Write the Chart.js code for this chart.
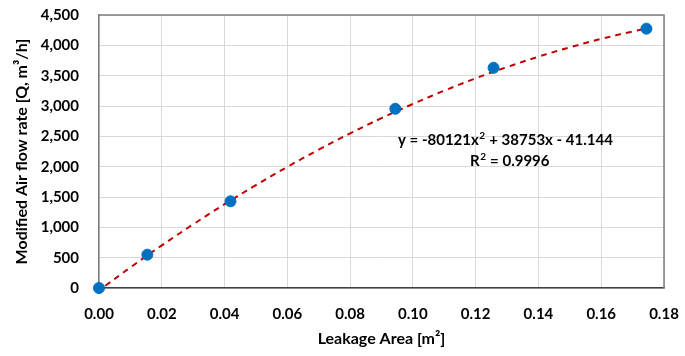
<!DOCTYPE html>
<html>
<head>
<meta charset="utf-8">
<script src="https://cdn.jsdelivr.net/npm/chart.js@4"></script>
<style>
html,body{margin:0;padding:0;background:#fff;}
#wrap{width:685px;height:356px;position:relative;}
</style>
</head>
<body>
<div id="wrap"><canvas id="c" width="685" height="356"></canvas></div>
<script>
// Measured data
const leakageArea = [0.0, 0.0154, 0.0419, 0.0944, 0.1257, 0.1744];
const airFlow = [0, 549, 1429, 2954, 3630, 4275];
// Trendline (red dashed curve)
const trendX = [0.002, 0.01, 0.02, 0.03, 0.04, 0.05, 0.06, 0.07, 0.08, 0.09, 0.10, 0.11, 0.12, 0.13, 0.14, 0.15, 0.16, 0.17, 0.1744];
const trendY = [36, 339, 702, 1049, 1381, 1696, 1996, 2280, 2548, 2800, 3033, 3253, 3456, 3642, 3813, 3967, 4106, 4228, 4276];
const yTicks = [0, 500, 1000, 1500, 2000, 2500, 3000, 3500, 4000, 4500];
const xTicks = [0.00, 0.02, 0.04, 0.06, 0.08, 0.10, 0.12, 0.14, 0.16, 0.18];
const equationText = ['y = -80121x', '2', ' + 38753x - 41.144'];
const r2Text = ['R', '2', ' = 0.9996'];

const FONT = 'Lato, "Open Sans", sans-serif';

const textPlugin = {
  id: 'eqText',
  afterDatasetsDraw(chart) {
    const ctx = chart.ctx;
    ctx.save();
    ctx.fillStyle = '#000';
    ctx.textBaseline = 'alphabetic';
    function drawSup(parts, x, y) {
      let cx = x;
      ctx.font = 'bold 15px ' + FONT;
      ctx.fillText(parts[0], cx, y);
      cx += ctx.measureText(parts[0]).width;
      ctx.font = 'bold 10px ' + FONT;
      ctx.fillText(parts[1], cx + 0.5, y - 6);
      cx += ctx.measureText(parts[1]).width + 1;
      ctx.font = 'bold 15px ' + FONT;
      ctx.fillText(parts[2], cx, y);
    }
    drawSup(equationText, 398, 145);
    drawSup(r2Text, 470, 166);
    // plot frame
    const a = chart.chartArea;
    ctx.strokeStyle = '#7f7f7f';
    ctx.lineWidth = 1.5;
    ctx.beginPath();
    ctx.moveTo(a.left, a.top);
    ctx.lineTo(a.right, a.top);
    ctx.lineTo(a.right, a.bottom);
    ctx.stroke();
    ctx.restore();
  }
};

new Chart(document.getElementById('c'), {
  type: 'scatter',
  data: {
    datasets: [
      {
        label: 'Trend',
        data: trendX.map((x, i) => ({x: x, y: trendY[i]})),
        showLine: true,
        borderColor: '#c00000',
        borderWidth: 2,
        borderDash: [6, 5],
        pointRadius: 0,
        tension: 0.4,
        fill: false,
        order: 2
      },
      {
        label: 'Data',
        data: leakageArea.map((x, i) => ({x: x, y: airFlow[i]})),
        backgroundColor: '#0070c0',
        borderColor: '#0070c0',
        pointRadius: 5.5,
        pointHoverRadius: 5.5,
        order: 1
      }
    ]
  },
  options: {
    responsive: false,
    animation: false,
    clip: false,
    layout: {padding: {left: 0, right: 21, top: 15, bottom: 0}},
    plugins: {legend: {display: false}, tooltip: {enabled: false}},
    scales: {
      x: {
        type: 'linear',
        min: 0, max: 0.18,
        afterBuildTicks: s => { s.ticks = xTicks.map(v => ({value: v})); },
        afterFit: s => { s.height = 68; s.paddingLeft = 0; s.paddingRight = 0; },
        grid: {color: '#d9d9d9', lineWidth: 1, drawTicks: false},
        border: {color: '#404040', width: 1.5},
        ticks: {
          padding: 17,
          color: '#000',
          font: {family: FONT, size: 15, weight: 'bold'},
          callback: v => Number(v).toFixed(2),
          maxRotation: 0
        },
        title: {
          display: true,
          text: 'Leakage Area [m²]',
          color: '#000',
          font: {family: FONT, size: 16, weight: 'bold'},
          padding: {top: 6, bottom: 8}
        }
      },
      y: {
        type: 'linear',
        min: 0, max: 4500,
        afterBuildTicks: s => { s.ticks = yTicks.map(v => ({value: v})); },
        afterFit: s => { s.width = 99; s.paddingTop = 0; s.paddingBottom = 0; },
        grid: {color: '#d9d9d9', lineWidth: 1, drawTicks: false},
        border: {color: '#7f7f7f', width: 1.5},
        ticks: {
          padding: 20,
          color: '#000',
          font: {family: FONT, size: 15, weight: 'bold'},
          callback: v => Number(v).toLocaleString('en-US')
        },
        title: {
          display: true,
          text: 'Modified Air flow rate [Q, m³/h]',
          color: '#000',
          font: {family: FONT, size: 16, weight: 'bold'},
          padding: {top: 12, bottom: 0}
        }
      }
    }
  },
  plugins: [textPlugin]
});
</script>
</body>
</html>
